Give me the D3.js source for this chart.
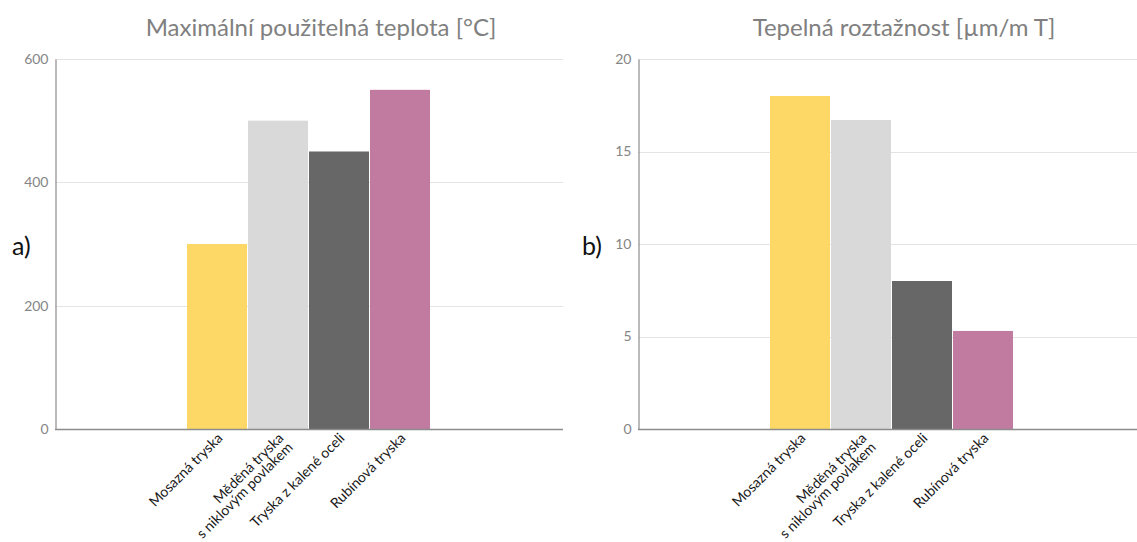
<!DOCTYPE html>
<html>
<head>
<meta charset="utf-8">
<script src="https://cdn.jsdelivr.net/npm/d3@7"></script>
<style>
  html, body { margin: 0; padding: 0; background: #fff; }
  svg { display: block; font-family: Lato, "Open Sans", sans-serif; }
</style>
</head>
<body>
<svg id="chart" width="1137" height="542"></svg>
<script>
// Nozzle types (multi-line labels split on "\n")
const categories = [
  "Mosazná tryska",
  "Měděná tryska\ns niklovým povlakem",
  "Tryska z kalené oceli",
  "Rubínová tryska"
];

// a) maximum operating temperature [°C]
const maxTempValues = [300, 500, 450, 550];
const maxTempTicks = [0, 200, 400, 600];

// b) thermal expansion [µm/m T]
const expansionValues = [18, 16.7, 8, 5.3];
const expansionTicks = [0, 5, 10, 15, 20];

const barColors = ["#fdd866", "#d9d9d9", "#676767", "#c27ba0"];

const svg = d3.select("#chart");

function drawPanel(cfg) {
  const plotW = 508, top = 59, bottom = 429;
  const g = svg.append("g").attr("transform", `translate(${cfg.x0},0)`);

  const x = d3.scaleBand()
    .domain(categories)
    .range([0, plotW])
    .paddingInner(0)
    .paddingOuter(2.164);

  const y = d3.scaleLinear()
    .domain([0, d3.max(cfg.ticks)])
    .range([bottom, top]);

  // horizontal gridlines
  g.append("g")
    .selectAll("line")
    .data(cfg.ticks.filter(t => t > 0))
    .join("line")
    .attr("x1", 0).attr("x2", plotW)
    .attr("y1", d => Math.round(y(d)) + 0.5)
    .attr("y2", d => Math.round(y(d)) + 0.5)
    .attr("stroke", "#e4e4e4")
    .attr("stroke-width", 1);

  // bars
  g.append("g")
    .selectAll("rect")
    .data(cfg.values)
    .join("rect")
    .attr("x", (d, i) => x(categories[i]))
    .attr("width", x.bandwidth() - 1)
    .attr("y", d => y(d))
    .attr("height", d => y(0) - y(d))
    .attr("fill", (d, i) => barColors[i]);

  // y axis: line + tick labels
  const yAxis = d3.axisLeft(y)
    .tickValues(cfg.ticks)
    .tickSize(0)
    .tickPadding(7)
    .tickFormat(d3.format("d"));
  const ya = g.append("g").attr("transform", "translate(0.5,0)").call(yAxis);
  ya.select(".domain").attr("stroke", "#8c8c8c").attr("stroke-width", 1.2);
  ya.selectAll("text")
    .attr("fill", "#858585")
    .style("font-size", "14px")
    .style("font-family", "Lato, sans-serif");

  // x axis baseline
  g.append("line")
    .attr("x1", 0).attr("x2", plotW)
    .attr("y1", bottom + 0.5).attr("y2", bottom + 0.5)
    .attr("stroke", "#8c8c8c")
    .attr("stroke-width", 1.4);

  // rotated category labels
  const lab = g.append("g")
    .selectAll("g")
    .data(categories)
    .join("g")
    .attr("transform", d => `translate(${x(d) + x.bandwidth() / 2 + 6},${bottom + 10}) rotate(-45)`);
  lab.each(function (d) {
    const lines = d.split("\n");
    d3.select(this).selectAll("text")
      .data(lines)
      .join("text")
      .attr("x", 0)
      .attr("y", (l, i) => i * 13)
      .attr("text-anchor", "end")
      .attr("fill", "#1a1a1a")
      .style("font-size", "14.2px")
      .text(l => l);
  });

  // title
  svg.append("text")
    .attr("x", cfg.x0 + 266)
    .attr("y", 36)
    .attr("text-anchor", "middle")
    .attr("fill", "#808080")
    .style("font-size", "24px")
    .text(cfg.title);

  // panel letter
  svg.append("text")
    .attr("x", cfg.letterX)
    .attr("y", 255)
    .attr("fill", "#111")
    .style("font-size", "25px")
    .text(cfg.letter);
}

drawPanel({
  x0: 55, values: maxTempValues, ticks: maxTempTicks,
  title: "Maximální použitelná teplota [°C]", letter: "a)", letterX: 12
});

drawPanel({
  x0: 638, values: expansionValues, ticks: expansionTicks,
  title: "Tepelná roztažnost [µm/m T]", letter: "b)", letterX: 582
});
</script>
</body>
</html>
